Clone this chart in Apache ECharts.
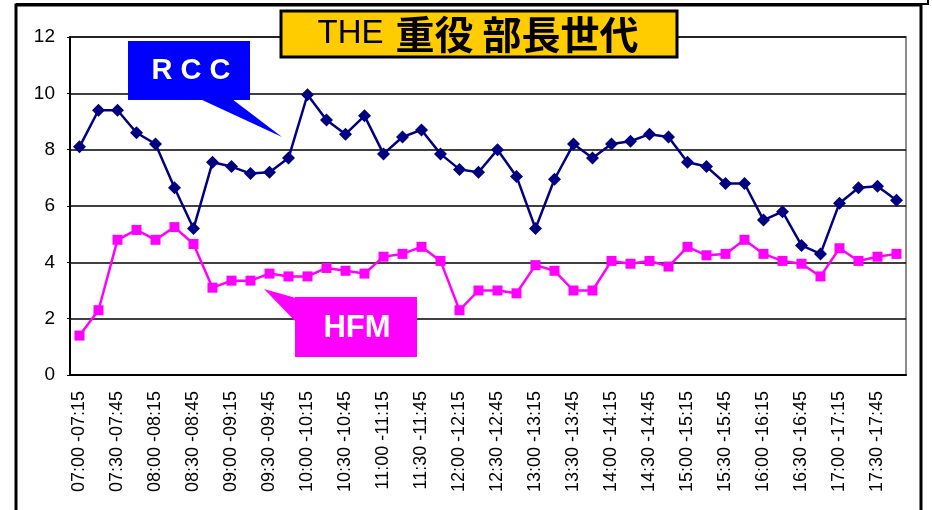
<!DOCTYPE html>
<html>
<head>
<meta charset="utf-8">
<script src="https://cdn.jsdelivr.net/npm/echarts@6/dist/echarts.min.js"></script>
<style>
    html, body { margin: 0; padding: 0; background: #fff; }
    #chart { width: 932px; height: 510px; }
</style>
</head>
<body>
<div id="chart"></div>
<script>
// 15分刻みの時間帯
const startTimes = ['07:00', '07:15', '07:30', '07:45', '08:00', '08:15', '08:30', '08:45',
    '09:00', '09:15', '09:30', '09:45', '10:00', '10:15', '10:30', '10:45',
    '11:00', '11:15', '11:30', '11:45', '12:00', '12:15', '12:30', '12:45',
    '13:00', '13:15', '13:30', '13:45', '14:00', '14:15', '14:30', '14:45',
    '15:00', '15:15', '15:30', '15:45', '16:00', '16:15', '16:30', '16:45',
    '17:00', '17:15', '17:30', '17:45']
const endTimes = ['07:15', '07:30', '07:45', '08:00', '08:15', '08:30', '08:45', '09:00',
    '09:15', '09:30', '09:45', '10:00', '10:15', '10:30', '10:45', '11:00',
    '11:15', '11:30', '11:45', '12:00', '12:15', '12:30', '12:45', '13:00',
    '13:15', '13:30', '13:45', '14:00', '14:15', '14:30', '14:45', '15:00',
    '15:15', '15:30', '15:45', '16:00', '16:15', '16:30', '16:45', '17:00',
    '17:15', '17:30', '17:45', '18:00']

const rccValues = [8.1, 9.4, 9.4, 8.6, 8.2, 6.65, 5.2, 7.55, 7.4, 7.15,
    7.2, 7.7, 9.95, 9.05, 8.55, 9.2, 7.85, 8.45, 8.7, 7.85,
    7.3, 7.2, 8.0, 7.05, 5.2, 6.95, 8.2, 7.7, 8.2, 8.3,
    8.55, 8.45, 7.55, 7.4, 6.8, 6.8, 5.5, 5.8, 4.6, 4.3,
    6.1, 6.65, 6.7, 6.2]
const hfmValues = [1.4, 2.3, 4.8, 5.15, 4.8, 5.25, 4.65, 3.1, 3.35, 3.35,
    3.6, 3.5, 3.5, 3.8, 3.7, 3.6, 4.2, 4.3, 4.55, 4.05,
    2.3, 3.0, 3.0, 2.9, 3.9, 3.7, 3.0, 3.0, 4.05, 3.95,
    4.05, 3.85, 4.55, 4.25, 4.3, 4.8, 4.3, 4.05, 3.95, 3.5,
    4.5, 4.05, 4.2, 4.3]

const yTicks = [0, 2, 4, 6, 8, 10, 12]
const titleMain = 'THE'
const titleSub = '重役 部長世代'

const categories = startTimes.map((s, i) => s + ' -' + endTimes[i])
const labelFont = "'Liberation Sans', Arial, sans-serif"

const chart = echarts.init(document.getElementById('chart'), null, {renderer: 'canvas'})

const options = {
    animation: false,
    grid: {
        left: 70, right: 26, top: 37, bottom: 135,
        show: true, borderColor: '#8c8c8c', borderWidth: 2, backgroundColor: '#fff'
    },
    xAxis: {
        type: 'category',
        data: categories,
        boundaryGap: true,
        axisLine: {lineStyle: {color: '#000', width: 2}},
        axisTick: {inside: true, length: 6, interval: 0, lineStyle: {color: '#000', width: 1.5}},
        axisLabel: {
            interval: 1, rotate: 90, margin: 16,
            color: '#000', fontSize: 18, fontFamily: labelFont
        }
    },
    yAxis: {
        type: 'value',
        min: yTicks[0], max: yTicks[yTicks.length - 1], interval: 2,
        axisLine: {show: true, lineStyle: {color: '#000', width: 2}},
        axisTick: {show: true, length: 3, lineStyle: {color: '#000'}},
        axisLabel: {color: '#000', fontSize: 19, margin: 15, fontFamily: labelFont},
        splitLine: {lineStyle: {color: '#000', width: 1.5}}
    },
    series: [
        {
            name: 'RCC',
            type: 'line',
            data: rccValues,
            symbol: 'diamond',
            symbolSize: 13,
            showAllSymbol: true,
            itemStyle: {color: '#000080'},
            lineStyle: {color: '#000080', width: 2.5}
        },
        {
            name: 'HFM',
            type: 'line',
            data: hfmValues,
            symbol: 'rect',
            symbolSize: 10,
            showAllSymbol: true,
            itemStyle: {color: '#ff00ff'},
            lineStyle: {color: '#ff00ff', width: 2.5}
        }
    ],
    graphic: [
        // 外枠
        {type: 'rect', shape: {x: 16, y: 5, width: 905, height: 520}, style: {fill: 'none', stroke: '#000', lineWidth: 3}, z: 100},
        {type: 'polyline', shape: {points: [[16, 4], [928, 4], [928, 0]]}, style: {fill: 'none', stroke: '#000', lineWidth: 2}, z: 100},
        // タイトル
        {type: 'rect', shape: {x: 281, y: 11, width: 396, height: 46}, style: {fill: '#ffcc00', stroke: '#000', lineWidth: 3}, z: 110},
        {
            type: 'text', x: 478, y: 34, z: 111,
            style: {
                text: '{a|' + titleMain + '}{b|' + titleSub + '}',
                align: 'center', verticalAlign: 'middle',
                rich: {
                    a: {fontSize: 33, fontFamily: "'Liberation Sans', sans-serif", fill: '#000', padding: [0, 12, 0, 0]},
                    b: {fontSize: 39, fontWeight: 'bold', fontFamily: "'Noto Sans CJK JP', sans-serif", fill: '#000'}
                }
            }
        },
        // RCC 吹き出し
        {type: 'polygon', shape: {points: [[200, 99], [232, 99], [282, 137]]}, style: {fill: '#0000ff'}, z: 110},
        {type: 'rect', shape: {x: 128, y: 41, width: 122, height: 59}, style: {fill: '#0000ff'}, z: 110},
        {
            type: 'text', x: 191, y: 71, z: 111,
            style: {
                text: 'R C C', align: 'center', verticalAlign: 'middle',
                fontSize: 29, fontWeight: 'bold', fontFamily: "'Liberation Sans', Arial, sans-serif", fill: '#fff'
            }
        },
        // HFM 吹き出し
        {type: 'polygon', shape: {points: [[264, 289], [296, 298], [296, 322]]}, style: {fill: '#ff00ff'}, z: 110},
        {type: 'rect', shape: {x: 295, y: 297, width: 122, height: 60}, style: {fill: '#ff00ff'}, z: 110},
        {
            type: 'text', x: 357, y: 328, z: 111,
            style: {
                text: 'HFM', align: 'center', verticalAlign: 'middle',
                fontSize: 31, fontWeight: 'bold', fontFamily: "'Liberation Sans', Arial, sans-serif", fill: '#fff'
            }
        }
    ]
}
chart.setOption(options)
</script>
</body>
</html>
